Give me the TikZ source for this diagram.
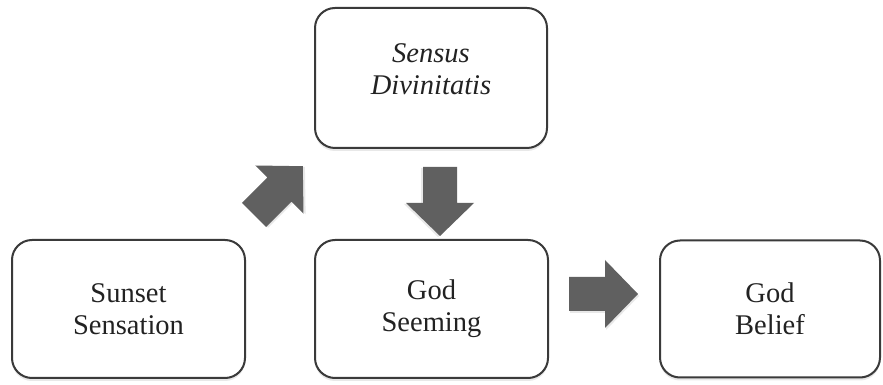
\documentclass[tikz,border=0pt]{standalone}
\usepackage{fontspec}
\setmainfont{Liberation Serif}
\usetikzlibrary{calc,shadows}
\definecolor{boxline}{HTML}{3A3A3A}
\definecolor{arrowgray}{HTML}{606060}
\definecolor{textgray}{HTML}{222222}
\tikzset{
  stagebox/.style={draw=boxline, line width=2pt, rounded corners=20pt, fill=white,
    drop shadow={shadow xshift=0pt, shadow yshift=-3pt, opacity=0.18, fill=gray},
    align=center, text=textgray, font=\fontsize{28.5}{32}\selectfont, inner sep=0pt},
  stagetext/.style={align=center, text=textgray, font=\fontsize{28.5}{32}\selectfont\itshape, inner sep=0pt},
  arrowfill/.style={fill=arrowgray},
  blockarrow/.pic={
    \fill[gray, opacity=0.18] (1,-19) -- (37,-19) -- (37,-36) -- (70,-2) -- (37,32) -- (37,15) -- (1,15) -- cycle;
    \fill[arrowfill] (0,-17) -- (36,-17) -- (36,-34) -- (69,0) -- (36,34) -- (36,17) -- (0,17) -- cycle;
  }
}
\begin{document}
\begin{tikzpicture}[x=1pt, y=1pt]
  \useasboundingbox (0,0) rectangle (883,385);
  \fill[white] (0,0) rectangle (883,385);

  % stages of the process
  \node[stagebox, minimum width=232pt, minimum height=140pt] (sensus) at (431,307) {};
  \node[stagetext] (sensustext) at ($(sensus.center)+(0,9)$) {Sensus\\Divinitatis};
  \node[stagebox, minimum width=233pt, minimum height=138pt] (sunset) at (128.5,76) {Sunset\\Sensation};
  \node[stagebox, minimum width=233pt, minimum height=138pt] (seeming) at (431.5,76) {God\\Seeming};
  \node[stagebox, minimum width=220pt, minimum height=137pt] (belief) at (770,76) {God\\Belief};

  % block arrows between the stages
  \pic[rotate=45] at (254,170) {blockarrow};
  \pic[rotate=-90] at (440,218) {blockarrow};
  \pic at (569,91) {blockarrow};
\end{tikzpicture}
\end{document}
